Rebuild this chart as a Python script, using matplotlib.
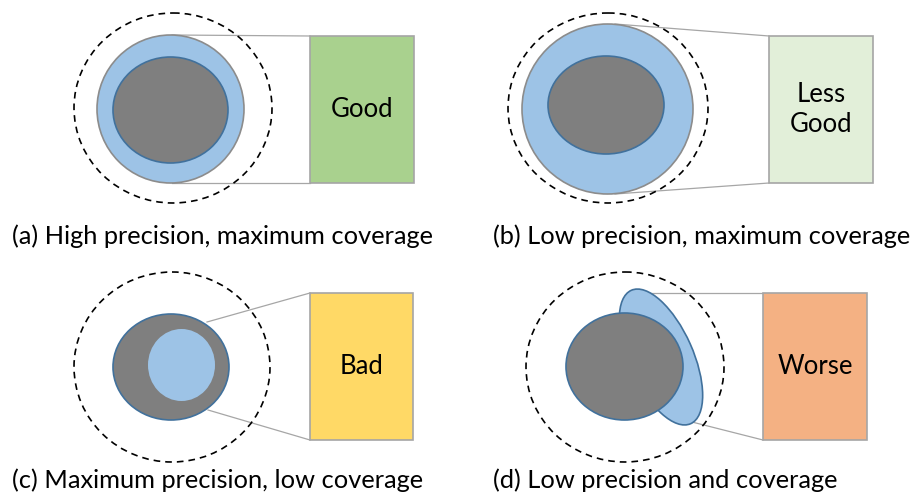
import matplotlib
matplotlib.use("Agg")
import matplotlib.pyplot as plt
from matplotlib.patches import Ellipse, Rectangle

# ---- content ----
captions = ["(a) High precision, maximum coverage",
            "(b) Low precision, maximum coverage",
            "(c) Maximum precision, low coverage",
            "(d) Low precision and coverage"]
verdicts = ["Good", "Less\nGood", "Bad", "Worse"]
verdict_colors = ["#a9d18e", "#e2efd9", "#ffd966", "#f4b183"]

# ---- geometry (pixel space, y downwards) ----
dashed = [(173, 108, 99, 95), (608, 108, 100, 95), (172, 367, 98, 95), (625, 367, 99, 95)]
boxes = [(310, 36, 104, 147), (769, 36, 104, 147), (310, 293, 103, 147), (763, 293, 104, 147)]
caption_xy = [(12, 244), (493, 244), (12, 488), (493, 488)]

W, H = 915, 498
fig = plt.figure(figsize=(W / 100, H / 100), dpi=100)
ax = fig.add_axes([0, 0, 1, 1])
ax.set_xlim(0, W)
ax.set_ylim(H, 0)
ax.axis("off")

FONT = ["Lato", "DejaVu Sans"]
BLUE = "#9dc3e6"
BLUE_EDGE = "#41719c"
GRAY = "#7f7f7f"
LINE = "#a6a6a6"

def line(p, q):
    ax.plot([p[0], q[0]], [p[1], q[1]], color=LINE, lw=0.9, zorder=1)

# connector lines
line((172, 35), (310, 36)); line((172, 183), (310, 183))
line((615, 24), (769, 36)); line((615, 194), (769, 183))
line((207, 322), (310, 293)); line((208, 410), (310, 440))
line((640, 293), (763, 293)); line((688, 421), (763, 440))

# (a)
ax.add_patch(Ellipse((170.5, 109), 147, 148, facecolor=BLUE, edgecolor="#8c8c8c", lw=1.2, zorder=2))
ax.add_patch(Ellipse((170.5, 110), 115, 106, facecolor=GRAY, edgecolor=BLUE_EDGE, lw=1.2, zorder=3))
# (b)
ax.add_patch(Ellipse((607.5, 109), 171, 170, facecolor=BLUE, edgecolor="#8c8c8c", lw=1.2, zorder=2))
ax.add_patch(Ellipse((606, 105), 116, 98, facecolor=GRAY, edgecolor=BLUE_EDGE, lw=1.2, zorder=3))
# (c)
ax.add_patch(Ellipse((171, 367), 116, 106, facecolor=GRAY, edgecolor=BLUE_EDGE, lw=1.2, zorder=2))
ax.add_patch(Ellipse((181.5, 365), 67, 72, facecolor=BLUE, edgecolor="none", zorder=3))
# (d)
ax.add_patch(Ellipse((661, 357), 64, 146, angle=-24, facecolor=BLUE, edgecolor=BLUE_EDGE, lw=1.2, zorder=2))
ax.add_patch(Ellipse((624.5, 366.5), 117, 107, facecolor=GRAY, edgecolor=BLUE_EDGE, lw=1.2, zorder=3))

# dashed outer circles
for cx, cy, rx, ry in dashed:
    ax.add_patch(Ellipse((cx, cy), 2 * rx, 2 * ry, facecolor="none", edgecolor="black",
                         lw=1.2, linestyle=(0, (4, 3)), zorder=4))

# verdict boxes
for (x, y, w, h), txt, col in zip(boxes, verdicts, verdict_colors):
    ax.add_patch(Rectangle((x, y), w, h, facecolor=col, edgecolor="#a5a5a5", lw=1.2, zorder=2))
    ax.text(x + w / 2, y + h / 2, txt, ha="center", va="center", fontsize=18.5,
            family=FONT, color="black", linespacing=1.25, zorder=5)

# captions
for (x, y), cap in zip(caption_xy, captions):
    ax.text(x, y, cap, ha="left", va="baseline", fontsize=18.3, family=FONT, color="black")

fig.savefig("out.png", dpi=100)
